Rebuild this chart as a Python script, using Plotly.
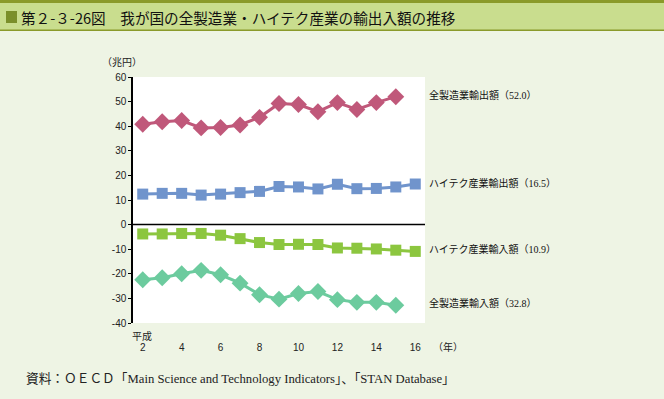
import plotly.graph_objects as go

years = list(range(2, 17))
mfg_export = [40.8, 41.8, 42.3, 39.3, 39.5, 40.5, 43.6, 49.2, 48.8, 45.9, 49.6, 46.8, 49.6, 52.0, None]
ht_export = [12.4, 12.7, 12.7, 12.0, 12.4, 13.0, 13.5, 15.5, 15.3, 14.5, 16.4, 14.6, 14.7, 15.3, 16.5]
ht_import = [-3.8, -3.8, -3.6, -3.6, -4.3, -5.7, -7.3, -8.1, -8.0, -8.1, -9.5, -9.6, -9.9, -10.4, -10.9]
mfg_import = [-22.4, -21.6, -20.0, -18.6, -20.4, -23.8, -28.5, -30.3, -28.0, -27.2, -30.5, -31.6, -31.6, -32.8, None]

series_names = ["全製造業輸出額（52.0）", "ハイテク産業輸出額（16.5）", "ハイテク産業輸入額（10.9）", "全製造業輸入額（32.8）"]
x_ticks = [2, 4, 6, 8, 10, 12, 14, 16]
y_ticks = [60, 50, 40, 30, 20, 10, 0, -10, -20, -30, -40]
y_ticktext = ["60", "50", "40", "30", "20", "10", "0", "-10", "-20", "-30", "-40"]

title = "第２-３-26図　我が国の全製造業・ハイテク産業の輸出入額の推移"
source = "資料：ＯＥＣＤ「Main Science and Technology Indicators」、「STAN Database」"

W, H = 664, 399
L, R, T, B = 133, 425, 77, 323

def py(p):
    return (B - p) / (B - T)

def px(p):
    return (p - L) / (R - L)

fig = go.Figure()
styles = [
    (mfg_export, "#C0587A", "diamond", 13),
    (ht_export, "#7094CC", "square", 11),
    (ht_import, "#8CC63F", "square", 11),
    (mfg_import, "#6CCB9E", "diamond", 13),
]
for (vals, col, sym, sz), name in zip(styles, series_names):
    fig.add_trace(go.Scatter(
        x=years, y=vals, mode="lines+markers", name=name,
        line=dict(color=col, width=3),
        marker=dict(symbol=sym, size=sz, color=col),
        connectgaps=False, showlegend=False,
    ))

# zero line
fig.add_shape(type="line", xref="paper", yref="y", x0=0, x1=1, y0=0, y1=0,
              line=dict(color="black", width=1.5))

# title bar
fig.add_shape(type="rect", xref="paper", yref="paper", x0=px(0), x1=px(W),
              y0=py(30), y1=py(0), fillcolor="#C9DD8E", line=dict(width=0), layer="below")
fig.add_shape(type="rect", xref="paper", yref="paper", x0=px(0), x1=px(W),
              y0=py(3), y1=py(0), fillcolor="#8A9A2A", line=dict(width=0))
fig.add_shape(type="rect", xref="paper", yref="paper", x0=px(0), x1=px(W),
              y0=py(31), y1=py(29.5), fillcolor="#8A9A2A", line=dict(width=0))
fig.add_shape(type="rect", xref="paper", yref="paper", x0=px(6), x1=px(17),
              y0=py(23), y1=py(11), fillcolor="#7A8F2A", line=dict(width=0))

anns = []
anns.append(dict(text=title, x=px(19), y=py(17), xref="paper", yref="paper",
                 xanchor="left", yanchor="middle", showarrow=False,
                 font=dict(size=14.6, color="#111", family="Noto Sans CJK JP")))
anns.append(dict(text="（兆円）", x=px(122), y=py(61), xref="paper", yref="paper",
                 xanchor="center", yanchor="middle", showarrow=False,
                 font=dict(size=10, color="#222", family="Noto Sans CJK JP")))
anns.append(dict(text="平成", x=px(142), y=py(335), xref="paper", yref="paper",
                 xanchor="center", yanchor="middle", showarrow=False,
                 font=dict(size=10, color="#222", family="Noto Sans CJK JP")))
anns.append(dict(text="（年）", x=px(448), y=py(346), xref="paper", yref="paper",
                 xanchor="center", yanchor="middle", showarrow=False,
                 font=dict(size=10, color="#222", family="Noto Sans CJK JP")))
label_ys = [95, 183, 249, 303]
for name, ly in zip(series_names, label_ys):
    anns.append(dict(text=name, x=px(427), y=py(ly), xref="paper", yref="paper",
                     xanchor="left", yanchor="middle", showarrow=False,
                     font=dict(size=10, color="#111", family="Liberation Serif, Noto Sans CJK JP")))
anns.append(dict(text=source, x=px(24), y=py(379), xref="paper", yref="paper",
                 xanchor="left", yanchor="middle", showarrow=False,
                 font=dict(size=12.7, color="#222", family="Liberation Serif, Noto Sans CJK JP")))

fig.update_layout(
    width=W, height=H,
    margin=dict(l=L, r=W - R, t=T, b=H - B),
    paper_bgcolor="#EEF4E4", plot_bgcolor="white",
    annotations=anns,
    font=dict(family="Liberation Sans, Arial", size=10, color="#222"),
)
fig.update_xaxes(range=[1.5, 16.5], tickvals=x_ticks, showgrid=False, zeroline=False,
                 showline=False, ticks="", ticklabelstandoff=17,
                 tickfont=dict(size=10, color="#222"))
fig.update_yaxes(range=[-40, 60], tickvals=y_ticks, ticktext=y_ticktext,
                 showgrid=False, zeroline=False,
                 showline=True, linecolor="black", linewidth=1.5, ticks="outside",
                 ticklen=3, tickcolor="black", tickfont=dict(size=10, color="#222"))

fig.write_html("out.html", config={"displayModeBar": False},
               post_script="document.body.style.margin='0';")
